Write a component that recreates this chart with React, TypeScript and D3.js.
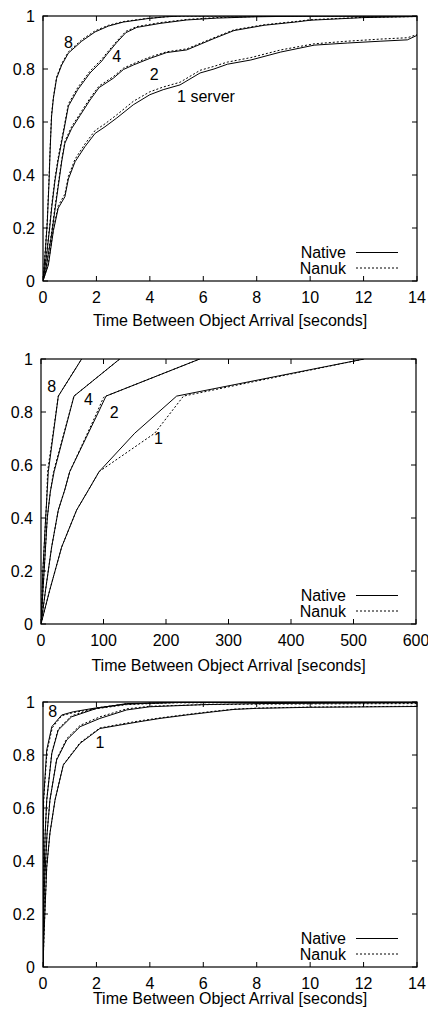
import React from "react";
import * as d3 from "d3";

type Pt = [number, number];

// ---------- Panel 1 (seconds, 0–14) ----------
const p1Native8: Pt[] = [[0,0],[0.08,0.1],[0.16,0.22],[0.22,0.36],[0.27,0.5],[0.32,0.62],[0.39,0.69],[0.51,0.765],[0.7,0.815],[0.95,0.86],[1.45,0.905],[1.95,0.94],[2.45,0.962],[3.0,0.977],[3.9,0.99],[4.6,0.997],[5.2,1.0],[14,1.0]];
const p1Nanuk8: Pt[] = [[0,0],[0.08,0.11],[0.16,0.23],[0.22,0.37],[0.27,0.51],[0.32,0.63],[0.39,0.695],[0.51,0.77],[0.7,0.82],[0.95,0.865],[1.45,0.91],[1.95,0.944],[2.45,0.965],[3.0,0.979],[3.9,0.991],[4.6,0.997],[5.2,1.0],[14,1.0]];
const p1Native4: Pt[] = [[0,0],[0.07,0.05],[0.14,0.1],[0.25,0.2],[0.33,0.28],[0.45,0.38],[0.57,0.457],[0.76,0.557],[0.95,0.66],[1.3,0.722],[1.76,0.785],[2.2,0.83],[2.39,0.855],[2.76,0.9],[3.1,0.937],[3.51,0.957],[4.38,0.972],[5.38,0.985],[6.5,0.992],[8,0.997],[10,1.0],[14,1.0]];
const p1Nanuk4: Pt[] = [[0,0],[0.07,0.055],[0.14,0.11],[0.25,0.21],[0.33,0.29],[0.45,0.39],[0.57,0.466],[0.76,0.566],[0.95,0.668],[1.3,0.73],[1.76,0.792],[2.2,0.837],[2.39,0.861],[2.76,0.905],[3.1,0.942],[3.51,0.96],[4.38,0.975],[5.38,0.987],[6.5,0.994],[8,0.998],[10,1.0],[14,1.0]];
const p1Native2: Pt[] = [[0,0],[0.1,0.04],[0.2,0.1],[0.33,0.18],[0.45,0.27],[0.57,0.356],[0.7,0.45],[0.82,0.52],[1.07,0.575],[1.39,0.625],[1.76,0.683],[2.1,0.73],[2.63,0.765],[3.01,0.798],[3.38,0.815],[4.0,0.84],[4.63,0.862],[5.38,0.872],[6.4,0.915],[7.15,0.945],[8.28,0.965],[9.52,0.978],[10.0,0.984],[12,0.994],[14,0.998]];
const p1Nanuk2: Pt[] = [[0,0],[0.1,0.045],[0.2,0.108],[0.33,0.19],[0.45,0.28],[0.57,0.365],[0.7,0.458],[0.82,0.528],[1.07,0.582],[1.39,0.632],[1.76,0.69],[2.1,0.736],[2.63,0.771],[3.01,0.803],[3.38,0.82],[4.0,0.845],[4.63,0.865],[5.38,0.876],[6.4,0.918],[7.15,0.948],[8.28,0.967],[9.52,0.98],[10.0,0.986],[12,0.995],[14,0.998]];
const p1Native1: Pt[] = [[0,0],[0.2,0.06],[0.39,0.19],[0.57,0.275],[0.82,0.318],[0.95,0.385],[1.2,0.45],[1.57,0.507],[1.95,0.557],[2.32,0.582],[2.76,0.615],[3.38,0.665],[4.0,0.703],[4.5,0.722],[5.13,0.74],[5.88,0.785],[6.4,0.8],[6.9,0.818],[7.78,0.834],[8.9,0.864],[10.15,0.89],[11.4,0.898],[12.65,0.905],[13.64,0.91],[14,0.927]];
const p1Nanuk1: Pt[] = [[0,0],[0.2,0.066],[0.39,0.198],[0.57,0.284],[0.82,0.328],[0.95,0.395],[1.2,0.46],[1.57,0.517],[1.95,0.568],[2.32,0.593],[2.76,0.627],[3.38,0.678],[4.0,0.714],[4.5,0.732],[5.13,0.75],[5.88,0.795],[6.4,0.81],[6.9,0.826],[7.78,0.843],[8.9,0.872],[10.15,0.895],[11.4,0.905],[12.65,0.913],[13.64,0.918],[14,0.93]];

// ---------- Panel 2 (seconds, 0–600) ----------
const p2Native8: Pt[] = [[0,0],[3,0.2],[7,0.38],[9.1,0.468],[11.7,0.575],[27.7,0.86],[65,1.0]];
const p2Nanuk8: Pt[] = [[0,0],[3,0.2],[7,0.38],[9.1,0.468],[10.5,0.575],[27.7,0.86],[65,1.0]];
const p2Native4: Pt[] = [[0,0],[5,0.2],[10,0.4],[15,0.5],[21,0.575],[52.8,0.86],[126,1.0]];
const p2Nanuk4: Pt[] = [[0,0],[5,0.2],[10,0.4],[15,0.5],[20,0.575],[52.8,0.86],[126,1.0]];
const p2Native2: Pt[] = [[0,0],[8,0.14],[17,0.29],[27.7,0.43],[38,0.506],[46,0.575],[92,0.8],[104,0.86],[254,1.0]];
const p2Nanuk2: Pt[] = [[0,0],[8,0.14],[17,0.29],[27.7,0.43],[38,0.506],[46,0.575],[88,0.79],[100,0.855],[104,0.86],[254,1.0]];
const p2Native1: Pt[] = [[0,0],[14,0.128],[33,0.29],[57,0.43],[76,0.506],[93,0.575],[150,0.72],[217,0.86],[517,1.0]];
const p2Nanuk1: Pt[] = [[0,0],[14,0.128],[33,0.29],[57,0.43],[76,0.506],[93,0.575],[182,0.72],[228,0.86],[517,1.0]];

// ---------- Panel 3 (seconds, 0–14) ----------
const p3Native8: Pt[] = [[0,0],[0.005,0.3],[0.01,0.5],[0.02,0.63],[0.14,0.819],[0.33,0.907],[0.7,0.951],[1.13,0.963],[1.88,0.976],[3.13,0.992],[5,1.0],[14,1.0]];
const p3Nanuk8: Pt[] = [[0,0],[0.005,0.3],[0.012,0.5],[0.025,0.63],[0.15,0.815],[0.35,0.903],[0.7,0.948],[1.13,0.96],[1.88,0.973],[3.13,0.99],[5,0.998],[14,0.999]];
const p3Native4: Pt[] = [[0,0],[0.03,0.3],[0.08,0.5],[0.14,0.63],[0.33,0.806],[0.57,0.894],[1.07,0.944],[2.01,0.976],[3.13,0.994],[5,0.998],[14,1.0]];
const p3Nanuk4: Pt[] = [[0,0],[0.03,0.3],[0.08,0.5],[0.14,0.63],[0.33,0.81],[0.57,0.898],[1.07,0.948],[2.01,0.978],[3.13,0.993],[5,0.997],[14,0.998]];
const p3Native2: Pt[] = [[0,0],[0.05,0.3],[0.15,0.5],[0.26,0.63],[0.51,0.781],[0.89,0.857],[1.39,0.907],[2.13,0.938],[3.13,0.97],[4.0,0.982],[6,0.99],[8,0.994],[14,0.997]];
const p3Nanuk2: Pt[] = [[0,0],[0.05,0.3],[0.15,0.5],[0.26,0.63],[0.51,0.785],[0.89,0.862],[1.39,0.912],[2.13,0.944],[3.13,0.974],[4.0,0.984],[6,0.99],[8,0.992],[14,0.994]];
const p3Native1: Pt[] = [[0,0],[0.04,0.128],[0.14,0.378],[0.26,0.505],[0.45,0.63],[0.76,0.762],[1.39,0.844],[2.13,0.9],[2.88,0.913],[3.63,0.926],[4.38,0.938],[5.38,0.951],[6.38,0.963],[7.15,0.972],[8,0.976],[10,0.98],[14,0.983]];
const p3Nanuk1: Pt[] = [[0,0],[0.04,0.128],[0.14,0.378],[0.26,0.505],[0.45,0.63],[0.76,0.764],[1.39,0.847],[2.13,0.902],[2.88,0.916],[3.63,0.929],[4.38,0.94],[5.38,0.953],[6.38,0.965],[7.15,0.973],[8,0.977],[10,0.981],[14,0.984]];

// ---------- ticks & labels ----------
const yTicks = [0, 0.2, 0.4, 0.6, 0.8, 1];
const xTicksShort = [0, 2, 4, 6, 8, 10, 12, 14];
const xTicksLong = [0, 100, 200, 300, 400, 500, 600];
const legendNames = ["Native", "Nanuk"];
const xTitle = "Time Between Object Arrival [seconds]";

type Label = { text: string; x: number; y: number; anchor?: string };

type PanelCfg = {
  left: number; right: number; top: number; bottom: number;
  xMax: number; xTicks: number[];
  natives: Pt[][]; nanuks: Pt[][];
  labels: Label[];
  titleY: number;
};

const FONT = "'Liberation Sans', Arial, Helvetica, sans-serif";

const panels: PanelCfg[] = [
  {
    left: 43, right: 417, top: 16, bottom: 281, xMax: 14, xTicks: xTicksShort,
    natives: [p1Native8, p1Native4, p1Native2, p1Native1],
    nanuks: [p1Nanuk8, p1Nanuk4, p1Nanuk2, p1Nanuk1],
    labels: [
      { text: "8", x: 0.95, y: 0.881 },
      { text: "4", x: 2.76, y: 0.825 },
      { text: "2", x: 4.16, y: 0.758 },
      { text: "1 server", x: 5.02, y: 0.677, anchor: "start" },
    ],
    titleY: 326,
  },
  {
    left: 41, right: 416, top: 359, bottom: 624, xMax: 600, xTicks: xTicksLong,
    natives: [p2Native8, p2Native4, p2Native2, p2Native1],
    nanuks: [p2Nanuk8, p2Nanuk4, p2Nanuk2, p2Nanuk1],
    labels: [
      { text: "8", x: 17, y: 0.875 },
      { text: "4", x: 76, y: 0.826 },
      { text: "2", x: 117, y: 0.777 },
      { text: "1", x: 188, y: 0.679 },
    ],
    titleY: 671,
  },
  {
    left: 43, right: 417, top: 702, bottom: 967, xMax: 14, xTicks: xTicksShort,
    natives: [p3Native8, p3Native4, p3Native2, p3Native1],
    nanuks: [p3Nanuk8, p3Nanuk4, p3Nanuk2, p3Nanuk1],
    labels: [
      { text: "8", x: 0.36, y: 0.945 },
      { text: "1", x: 2.13, y: 0.828 },
    ],
    titleY: 1004,
  },
];

function Panel({ cfg }: { cfg: PanelCfg }) {
  const x = d3.scaleLinear().domain([0, cfg.xMax]).range([cfg.left, cfg.right]);
  const y = d3.scaleLinear().domain([0, 1]).range([cfg.bottom, cfg.top]);
  const line = d3.line<Pt>().x((d) => x(d[0])).y((d) => y(d[1]));
  const tl = 5;
  const legTextX = 346;
  const legLine: [number, number] = [356, 398];
  const legRowsY = [cfg.bottom - 28.5, cfg.bottom - 13];
  return (
    <g>
      <defs>
        <clipPath id={`clip-${cfg.top}`}>
          <rect x={cfg.left} y={cfg.top} width={cfg.right - cfg.left} height={cfg.bottom - cfg.top} />
        </clipPath>
      </defs>
      {yTicks.map((t) => (
        <g key={`y${t}`}>
          <line x1={cfg.left} x2={cfg.left + tl} y1={y(t)} y2={y(t)} stroke="#000" />
          <line x1={cfg.right} x2={cfg.right - tl} y1={y(t)} y2={y(t)} stroke="#000" />
          <text x={cfg.left - 8} y={y(t) + 5.5} textAnchor="end" fontSize={16} fontFamily={FONT} fill="#000">
            {String(t)}
          </text>
        </g>
      ))}
      {cfg.xTicks.map((t) => (
        <g key={`x${t}`}>
          <line x1={x(t)} x2={x(t)} y1={cfg.bottom} y2={cfg.bottom - tl} stroke="#000" />
          <line x1={x(t)} x2={x(t)} y1={cfg.top} y2={cfg.top + tl} stroke="#000" />
          <text x={x(t)} y={cfg.bottom + 21.5} textAnchor="middle" fontSize={16} fontFamily={FONT} fill="#000">
            {String(t)}
          </text>
        </g>
      ))}
      <g clipPath={`url(#clip-${cfg.top})`}>
        {cfg.nanuks.map((s, i) => (
          <path key={`n${i}`} d={line(s) || ""} fill="none" stroke="#000" strokeWidth={1} strokeDasharray="2,2" />
        ))}
        {cfg.natives.map((s, i) => (
          <path key={`s${i}`} d={line(s) || ""} fill="none" stroke="#000" strokeWidth={1} />
        ))}
      </g>
      {cfg.labels.map((l, i) => (
        <text key={`l${i}`} x={x(l.x)} y={y(l.y)} textAnchor={l.anchor || "middle"} fontSize={16} fontFamily={FONT} fill="#000">
          {l.text}
        </text>
      ))}
      {legendNames.map((n, i) => (
        <g key={n}>
          <text x={legTextX} y={legRowsY[i] + 5.5} textAnchor="end" fontSize={16} fontFamily={FONT} fill="#000">
            {n}
          </text>
          <line x1={legLine[0]} x2={legLine[1]} y1={legRowsY[i]} y2={legRowsY[i]} stroke="#000" strokeWidth={1}
            strokeDasharray={i === 1 ? "2,2" : undefined} />
        </g>
      ))}
      <rect x={cfg.left} y={cfg.top} width={cfg.right - cfg.left} height={cfg.bottom - cfg.top} fill="none" stroke="#000" strokeWidth={1.2} />
      <text x={(cfg.left + cfg.right) / 2} y={cfg.titleY} textAnchor="middle" fontSize={16} fontFamily={FONT} fill="#000">
        {xTitle}
      </text>
    </g>
  );
}

export default function App() {
  return (
    <svg width={428} height={1015} style={{ position: "absolute", left: 0, top: 0, background: "#fff" }}>
      <rect x={0} y={0} width={428} height={1015} fill="#fff" />
      {panels.map((p, i) => (
        <Panel key={i} cfg={p} />
      ))}
    </svg>
  );
}
